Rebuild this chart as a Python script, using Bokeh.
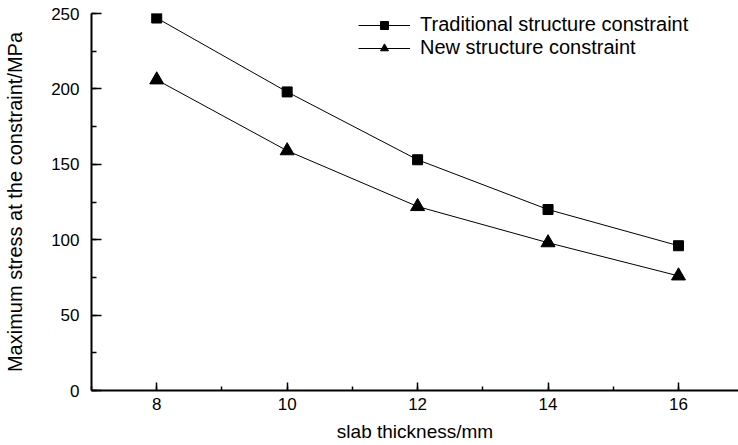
from bokeh.plotting import figure
from bokeh.models import SingleIntervalTicker, Range1d, Legend, LegendItem
from bokeh.embed import file_html
from bokeh.resources import INLINE

# Data
thickness = [8, 10, 12, 14, 16]
traditional = [247, 198, 153, 120, 96]
new_structure = [206, 159, 122, 98, 76]
series_names = ["Traditional structure constraint", "New structure constraint"]
x_label = "slab thickness/mm"
y_label = "Maximum stress at the constraint/MPa"

FONT = "Liberation Sans"

p = figure(width=738, height=445, output_backend="svg", toolbar_location=None,
           x_range=Range1d(7, 16.92), y_range=Range1d(0, 250),
           min_border_left=91, min_border_right=0, min_border_top=13, min_border_bottom=55)
p.outline_line_color = None
p.xgrid.visible = False
p.ygrid.visible = False
p.background_fill_color = "white"
p.border_fill_color = "white"

r1l = p.line(thickness, traditional, line_color="black", line_width=1)
r1m = p.scatter(thickness, traditional, marker="square", size=10, color="black")
r2l = p.line(thickness, new_structure, line_color="black", line_width=1)
r2m = p.scatter(thickness, new_structure, marker="triangle", size=14, color="black")

p.xaxis.ticker = SingleIntervalTicker(interval=2, num_minor_ticks=2)
p.yaxis.ticker = SingleIntervalTicker(interval=50, num_minor_ticks=2)

for ax in (p.xaxis[0], p.yaxis[0]):
    ax.axis_line_width = 2
    ax.axis_line_color = "black"
    ax.major_tick_line_width = 1.5
    ax.minor_tick_line_width = 1.5
    ax.major_tick_line_color = "black"
    ax.minor_tick_line_color = "black"
    ax.major_tick_out = 0
    ax.minor_tick_out = 0
    ax.major_label_text_font = FONT
    ax.major_label_text_color = "black"
    ax.major_label_text_font_size = "17px"
    ax.axis_label_text_font = FONT
    ax.axis_label_text_font_style = "normal"
    ax.axis_label_text_color = "black"

p.xaxis.major_tick_in = 8
p.xaxis.minor_tick_in = 4
p.yaxis.major_tick_in = 10
p.yaxis.minor_tick_in = 5
p.xaxis.major_label_standoff = 7
p.yaxis.major_label_standoff = 12
p.xaxis.axis_label = x_label
p.yaxis.axis_label = y_label
p.xaxis.axis_label_text_font_size = "19px"
p.yaxis.axis_label_text_font_size = "20px"
p.xaxis.axis_label_standoff = 8
p.yaxis.axis_label_standoff = 22


def make_legend(label, renderers, loc):
    lg = Legend(items=[LegendItem(label=label, renderers=renderers)], location=loc)
    lg.border_line_color = None
    lg.background_fill_alpha = 0
    lg.padding = 0
    lg.margin = 0
    lg.spacing = 0
    lg.glyph_width = 52
    lg.glyph_height = 20
    lg.label_height = 20
    lg.label_standoff = 10
    lg.label_text_font = FONT
    lg.label_text_font_size = "20px"
    lg.label_text_color = "black"
    return lg


p.add_layout(make_legend(series_names[0], [r1l, r1m], (267, 354)), "center")
p.add_layout(make_legend(series_names[1], [r2l, r2m], (267, 331)), "center")

open("out.html", "w").write(file_html(p, INLINE))
